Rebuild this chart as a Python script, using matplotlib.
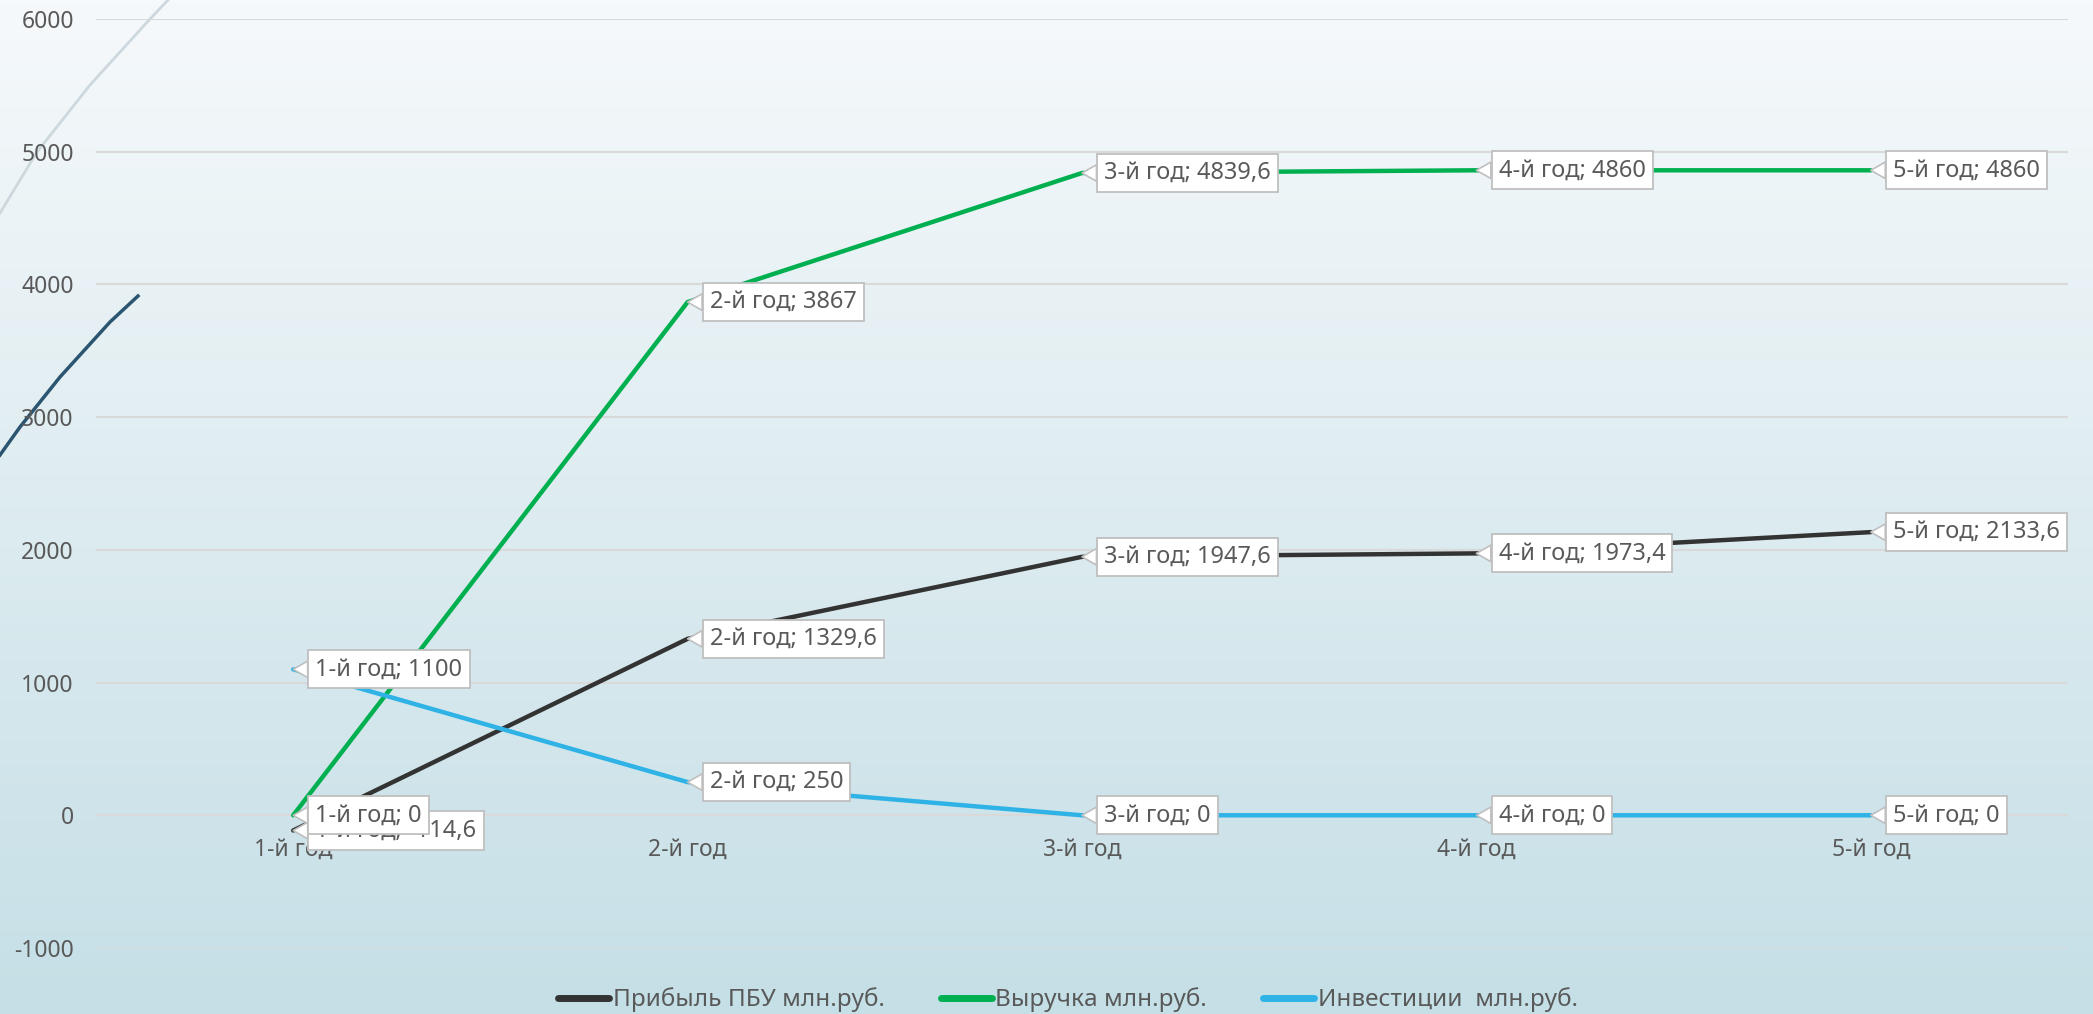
import numpy as np
import matplotlib.pyplot as plt

plt.rcParams['font.family'] = ['Noto Sans', 'DejaVu Sans']
plt.rcParams['axes.unicode_minus'] = False

# data
years = ['1-й год', '2-й год', '3-й год', '4-й год', '5-й год']
profit = [-114.6, 1329.6, 1947.6, 1973.4, 2133.6]
revenue = [0, 3867, 4839.6, 4860, 4860]
invest = [1100, 250, 0, 0, 0]

series = [
    ('Прибыль ПБУ млн.руб.', profit, '#333333'),
    ('Выручка млн.руб.', revenue, '#00b050'),
    ('Инвестиции  млн.руб.', invest, '#2fb3e6'),
]

text_col = '#595959'
W, H = 2093, 1014


def fmt(v):
    if float(v).is_integer():
        return str(int(v))
    return ('%g' % v).replace('.', ',')


fig = plt.figure(figsize=(W / 100, H / 100), dpi=100)

# gradient background
bg = fig.add_axes([0, 0, 1, 1], zorder=-1)
top = np.array([0xf6, 0xf9, 0xfb]) / 255
bot = np.array([0xc5, 0xdf, 0xe6]) / 255
t = np.linspace(0, 1, 256)[:, None]
grad = top * (1 - t) + bot * t
bg.imshow(grad[:, None, :], aspect='auto', extent=[0, 1, 0, 1])
bg.set_xlim(0, 1)
bg.set_ylim(0, 1)
bg.axis('off')

# decorative slide curves (top-left corner)
c1 = np.array([(0, 213), (37, 152), (90, 85), (150, 19), (168, 0)])
c2 = np.array([(0, 455), (20, 427), (60, 377), (110, 322), (138, 296)])
bg.plot(c1[:, 0] / W, 1 - c1[:, 1] / H, color='#cdd8de', lw=2)
bg.plot(c2[:, 0] / W, 1 - c2[:, 1] / H, color='#2b5570', lw=2.5)

ax = fig.add_axes([96 / W, 1 - 948 / H, (2068 - 96) / W, (948 - 19) / H])
ax.set_facecolor('none')

x = np.arange(len(years))
for name, vals, col in series:
    ax.plot(x, vals, color=col, lw=3.2, label=name, solid_capstyle='round')

z = 5
for name, vals, col in series:
    for i, v in enumerate(vals):
        ax.annotate(f'{years[i]}; {fmt(v)}', xy=(x[i], v), xytext=(16, 0),
                    textcoords='offset points', ha='left', va='center',
                    fontsize=17, color=text_col, zorder=z,
                    bbox=dict(boxstyle='square,pad=0.3', fc='white',
                              ec='#bfbfbf', lw=1.3),
                    arrowprops=dict(arrowstyle='wedge,tail_width=0.7,shrink_factor=0.5',
                                    fc='white', ec='#bfbfbf', lw=1.2,
                                    shrinkA=0, shrinkB=0))
        z += 0.01

ax.set_xlim(-0.5, len(years) - 0.5)
ax.set_ylim(-1000, 6000)
ax.set_yticks(range(-1000, 6001, 1000))
ax.set_xticks(x)
ax.set_xticklabels(years)
ax.grid(axis='y', color='#d9d9d9', lw=1.5)
ax.set_axisbelow(True)
for s in ax.spines.values():
    s.set_visible(False)
ax.spines['bottom'].set_position(('data', 0))
ax.tick_params(axis='y', length=0, pad=16, labelsize=16.5, labelcolor=text_col)
ax.tick_params(axis='x', length=0, pad=16, labelsize=16.5, labelcolor=text_col)

leg = fig.legend(loc='center', bbox_to_anchor=(1068 / W, 1 - 1000 / H), ncol=3,
                 frameon=False, fontsize=17.5, handlelength=2.1,
                 handletextpad=0.15, columnspacing=2.3, labelcolor=text_col)
for ln in leg.get_lines():
    ln.set_linewidth(5)

fig.savefig('out.png', dpi=100)
